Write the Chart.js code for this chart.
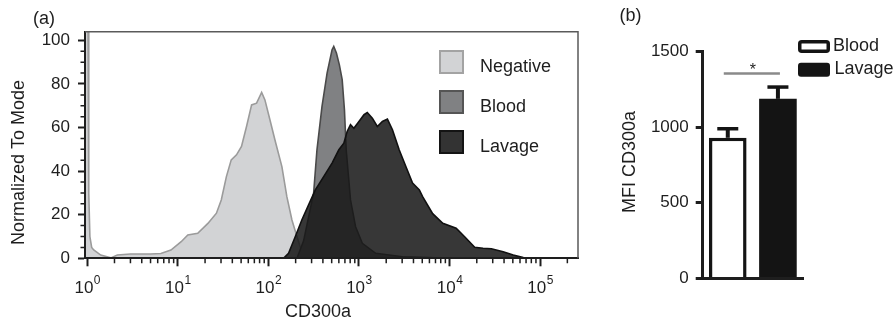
<!DOCTYPE html>
<html>
<head>
<meta charset="utf-8">
<script src="https://cdn.jsdelivr.net/npm/chart.js@4"></script>
<style>
  html, body { margin:0; padding:0; background:#fff; }
  #wrap { position:relative; width:896px; height:327px; }
  canvas { position:absolute; top:0; }
  #histo { left:0; }
  #bars { left:600px; }
</style>
</head>
<body>
<div id="wrap">
  <canvas id="histo" width="600" height="327"></canvas>
  <canvas id="bars" width="296" height="327"></canvas>
</div>
<script>
// ---------- panel (a) : CD300a histograms, % of mode ----------
const negX = [0.945, 1.02, 1.04, 1.07, 1.12, 1.18, 1.41, 1.82, 2.15, 3, 5, 6.5, 8.4, 10.9, 12.9, 16.6, 21.5, 26.7, 30.2, 34.4, 38.9,
              44.5, 50.5, 57.4, 65.3, 74.1, 84.3, 91.6, 104, 118, 141, 160, 182, 207, 234, 267];
const negY = [110, 110, 30, 10, 5, 3.8, 1.5, 0.2, 1.5, 2, 2, 2.2, 3.8, 7.6, 10.7, 11.5, 16, 20.7, 26.8, 37.5, 45.2,
              47.5, 51.3, 60.5, 70.4, 71.2, 76.1, 72.7, 63.6, 54.4, 42.1, 28.3, 17.6, 9.9, 3, 0];

const bloodX = [207, 245, 316, 344, 391, 445, 505, 527, 564, 608, 653, 692, 723, 807, 918, 1089, 1531, 3020, 7080, 10000];
const bloodY = [0, 8, 29.9, 49.8, 69.7, 85, 95.7, 97.2, 94.2, 88.8, 82, 68, 49.8, 26.8, 14.5, 6.9, 2.3, 0.7, 0.2, 0];

const lavX = [147, 167, 198, 234, 278, 330, 408, 505, 600, 681, 741, 807, 879, 1000, 1138, 1236, 1406, 1596, 1816, 2061,
              2344, 2780, 3296, 3908, 4645, 5047, 6516, 8433, 11830, 14690, 18970, 23440, 28970, 39080, 50580, 65310, 84330];
const lavY = [0, 2.3, 9.9, 17.6, 24.5, 31.4, 37.5, 43.7, 49.8, 52.8, 58.2, 61.3, 59.7, 62.8, 65.9, 66.9, 64.3, 60.5, 62.8, 63.9,
              59, 49.8, 42.1, 34.5, 31.4, 28.3, 20.5, 16.1, 13.8, 9.9, 5.1, 4.6, 4.4, 3.0, 1.5, 0.3, 0];

const histLabels = ['Negative', 'Blood', 'Lavage'];
const xTicksA = [1, 10, 100, 1000, 10000, 100000];
const yTicksA = [0, 20, 40, 60, 80, 100];

// ---------- panel (b) : MFI CD300a, mean + SEM ----------
const barCats = ['Blood', 'Lavage'];
const barMean = [930, 1188];
const barSem  = [60, 78];
const yTicksB = [0, 500, 1000, 1500];
const sigLevel = 1356;
const sigText = '*';

// ---------- look ----------
const FAM = "'Liberation Sans', Arial, Helvetica, sans-serif";
const INK = '#1e1e1e';
Chart.defaults.font.family = FAM;
Chart.defaults.color = INK;

const COL = {
  Negative: { fill:'#d2d3d5', line:'#9b9b9b', box:'#d2d3d5', edge:'#a3a3a3' },
  Blood:    { fill:'#808183', line:'#4a4a4a', box:'#808183', edge:'#555' },
  Lavage:   { fill:'rgba(22,22,22,0.86)', line:'#111', box:'#333', edge:'#141414' },
};
const pts = (xs, ys) => xs.map((x, i) => ({ x, y: ys[i] }));

function rotText(ctx, txt, x, y) {
  ctx.save(); ctx.translate(x, y); ctx.rotate(-Math.PI / 2);
  ctx.fillText(txt, 0, 0); ctx.restore();
}

// minor ticks, 10^n labels, frame, legend and titles of the histogram panel
const histExtras = {
  id: 'histExtras',
  afterDraw(chart) {
    const { ctx, chartArea: a, scales: { x, y } } = chart;
    ctx.save();
    ctx.strokeStyle = INK; ctx.lineWidth = 1.5;
    ctx.beginPath();
    for (let k = 0; k < 6; k++) {
      for (let m = 2; m <= 9; m++) {
        const v = m * Math.pow(10, k);
        if (v > x.max) break;
        const px = x.getPixelForValue(v);
        ctx.moveTo(px, a.bottom); ctx.lineTo(px, a.bottom + 5);
      }
    }
    for (let v = 5; v < y.max; v += 5) {
      if (v % 20 === 0) continue;
      const py = y.getPixelForValue(v);
      ctx.moveTo(a.left - 4.5, py); ctx.lineTo(a.left, py);
    }
    ctx.stroke();

    // decade labels 10^n with a raised exponent
    ctx.fillStyle = INK; ctx.textAlign = 'left'; ctx.textBaseline = 'alphabetic';
    xTicksA.forEach(v => {
      const base = '10', exp = String(Math.round(Math.log10(v)));
      ctx.font = '17px ' + FAM; const wb = ctx.measureText(base).width;
      ctx.font = '12px ' + FAM; const we = ctx.measureText(exp).width;
      const x0 = x.getPixelForValue(v) - (wb + we) / 2;
      ctx.font = '17px ' + FAM; ctx.fillText(base, x0, 293);
      ctx.font = '12px ' + FAM; ctx.fillText(exp, x0 + wb + 0.5, 283.5);
    });

    // box round the plot
    ctx.strokeStyle = '#5a5a5a'; ctx.lineWidth = 1.5;
    ctx.beginPath();
    ctx.moveTo(a.left, a.top); ctx.lineTo(a.right, a.top); ctx.lineTo(a.right, a.bottom);
    ctx.stroke();

    // legend
    ctx.font = '18px ' + FAM;
    histLabels.forEach((lab, i) => {
      const top = 50 + i * 40, c = COL[lab];
      ctx.fillStyle = c.box; ctx.fillRect(439, top, 25, 24);
      ctx.strokeStyle = c.edge; ctx.lineWidth = 2; ctx.strokeRect(440, top + 1, 23, 22);
      ctx.fillStyle = INK; ctx.fillText(lab, 480, top + 21.5);
    });

    // titles
    ctx.textAlign = 'center'; ctx.textBaseline = 'middle';
    ctx.fillText('CD300a', 318, 312);
    rotText(ctx, 'Normalized To Mode', 19, 162.5);
    ctx.fillText('(a)', 44, 19);
    ctx.restore();
  }
};

new Chart(document.getElementById('histo'), {
  type: 'line',
  data: {
    datasets: ['Lavage', 'Blood', 'Negative'].map(lab => ({
      label: lab,
      data: lab === 'Lavage' ? pts(lavX, lavY) : lab === 'Blood' ? pts(bloodX, bloodY) : pts(negX, negY),
      backgroundColor: COL[lab].fill, borderColor: COL[lab].line,
      borderWidth: 1.6, fill: 'origin', pointRadius: 0, tension: 0
    }))
  },
  options: {
    responsive: false, animation: false,
    layout: { padding: { top: 31.7, right: 22, left: 0, bottom: 0 } },
    plugins: { legend: { display: false }, tooltip: { enabled: false } },
    scales: {
      x: {
        type: 'logarithmic', min: 0.945, max: 262144,
        afterFit: s => { s.height = 68.7; },
        afterBuildTicks: s => { s.ticks = xTicksA.map(v => ({ value: v })); },
        grid: { drawOnChartArea: false, tickLength: 8, tickWidth: 2, tickColor: INK },
        border: { color: INK, width: 2, z: 1 },
        ticks: { display: false }
      },
      y: {
        min: 0, max: 104,
        afterFit: s => { s.width = 85; },
        afterBuildTicks: s => { s.ticks = yTicksA.map(v => ({ value: v })); },
        grid: { drawOnChartArea: false, tickLength: 7, tickWidth: 2, tickColor: INK },
        border: { color: INK, width: 2, z: 1 },
        ticks: { font: { size: 17 }, padding: 8, callback: v => String(v) }
      }
    }
  },
  plugins: [histExtras]
});

// error bars, significance bar, legend and titles of the bar panel
const barExtras = {
  id: 'barExtras',
  afterDatasetsDraw(chart) {
    const { ctx, scales: { y } } = chart;
    const bars = chart.getDatasetMeta(0).data;
    ctx.save();
    ctx.strokeStyle = '#141414';
    bars.forEach((b, i) => {
      const top = y.getPixelForValue(barMean[i]);
      const cap = y.getPixelForValue(barMean[i] + barSem[i]);
      ctx.lineWidth = 4;
      ctx.beginPath(); ctx.moveTo(b.x, top); ctx.lineTo(b.x, cap); ctx.stroke();
      ctx.lineWidth = 3.5;
      ctx.beginPath(); ctx.moveTo(b.x - 10.5, cap); ctx.lineTo(b.x + 10.5, cap); ctx.stroke();
    });
    const sy = y.getPixelForValue(sigLevel);
    ctx.strokeStyle = '#8a8a8a'; ctx.lineWidth = 2.5;
    ctx.beginPath(); ctx.moveTo(bars[0].x - 4, sy); ctx.lineTo(bars[1].x + 2, sy); ctx.stroke();
    ctx.fillStyle = INK; ctx.font = '16px ' + FAM;
    ctx.textAlign = 'center'; ctx.textBaseline = 'alphabetic';
    ctx.fillText(sigText, (bars[0].x + bars[1].x) / 2, sy + 1.5);
    ctx.restore();
  },
  afterDraw(chart) {
    const { ctx } = chart;
    ctx.save();
    // legend
    ctx.strokeStyle = '#141414'; ctx.lineWidth = 3.5;
    ctx.beginPath(); ctx.roundRect(199.75, 41.75, 28.5, 9.5, 2); ctx.stroke();
    ctx.fillStyle = '#141414';
    ctx.beginPath(); ctx.roundRect(198, 62.7, 32, 14, 3); ctx.fill();
    ctx.fillStyle = INK; ctx.font = '18px ' + FAM;
    ctx.textAlign = 'left'; ctx.textBaseline = 'alphabetic';
    ctx.fillText(barCats[0], 233, 50.7);
    ctx.fillText(barCats[1], 234.5, 74);
    // titles
    ctx.textAlign = 'center'; ctx.textBaseline = 'middle';
    rotText(ctx, 'MFI CD300a', 30, 162);
    ctx.fillText('(b)', 30.5, 16);
    ctx.restore();
  }
};

new Chart(document.getElementById('bars'), {
  type: 'bar',
  data: {
    labels: barCats,
    datasets: [{ data: barMean, backgroundColor: ['#ffffff', '#141414'], borderColor: '#141414',
                 borderWidth: [3.5, 0], barPercentage: 0.75, categoryPercentage: 1 }]
  },
  options: {
    responsive: false, animation: false,
    layout: { padding: { top: 51.7, right: 93, left: 0, bottom: 0 } },
    plugins: { legend: { display: false }, tooltip: { enabled: false } },
    scales: {
      x: {
        afterFit: s => { s.height = 48.7; },
        ticks: { display: false }, grid: { display: false },
        border: { color: INK, width: 3, z: 1 }
      },
      y: {
        min: 0, max: 1500,
        afterFit: s => { s.width = 102.7; },
        afterBuildTicks: s => { s.ticks = yTicksB.map(v => ({ value: v })); },
        grid: { drawOnChartArea: false, tickLength: 7, tickWidth: 3, tickColor: INK },
        border: { color: INK, width: 3 },
        ticks: { font: { size: 17 }, padding: 7, callback: v => String(v) }
      }
    }
  },
  plugins: [barExtras]
});
</script>
</body>
</html>
